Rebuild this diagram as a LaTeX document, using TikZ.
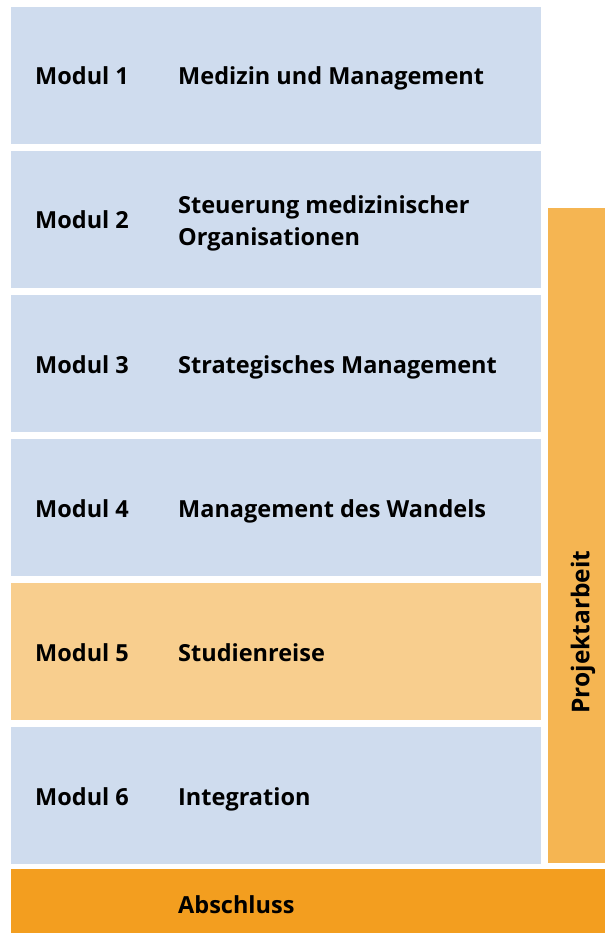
\documentclass[tikz,border=0pt]{standalone}
\usepackage{fontspec}
\setmainfont{Open Sans}[BoldFont={Open Sans Bold}]
\definecolor{modblue}{HTML}{CFDCEE}
\definecolor{modorange}{HTML}{F8CE8E}
\definecolor{projorange}{HTML}{F5B552}
\definecolor{endorange}{HTML}{F39E1F}
\begin{document}
\begin{tikzpicture}[x=1pt,y=-1pt,
  lbl/.style={anchor=base west,inner sep=0pt,font=\fontsize{23.5}{32}\selectfont\bfseries,align=left},
]
\useasboundingbox[fill=white] (0,0) rectangle (605,933);
% modules
\foreach \i/\c in {1/modblue,2/modblue,3/modblue,4/modblue,5/modorange,6/modblue}{
  \pgfmathsetmacro{\top}{7+(\i-1)*144}
  \fill[\c] (11,\top) rectangle (541,\top+137);
}
\fill[projorange] (548,208) rectangle (605,863);
\fill[endorange] (11,869) rectangle (605,933);
% labels
\node[lbl] (l1) at (35,85) {Modul 1};
\node[lbl] (t1) at (178,85) {Medizin und Management};
\node[lbl] (l2) at (35,229) {Modul 2};
\node[lbl,anchor=north west] (t2) at (178,195) {Steuerung medizinischer\\Organisationen};
\node[lbl] (l3) at (35,373) {Modul 3};
\node[lbl] (t3) at (178,373) {Strategisches Management};
\node[lbl] (l4) at (35,517) {Modul 4};
\node[lbl] (t4) at (178,517) {Management des Wandels};
\node[lbl] (l5) at (35,661) {Modul 5};
\node[lbl] (t5) at (178,661) {Studienreise};
\node[lbl] (l6) at (35,805) {Modul 6};
\node[lbl] (t6) at (178,805) {Integration};
\node[lbl] (t7) at (178,913) {Abschluss};
\node[inner sep=0pt,rotate=90,font=\fontsize{24.5}{32}\selectfont\bfseries] (pa) at (583,632) {Projektarbeit};
\end{tikzpicture}
\end{document}
